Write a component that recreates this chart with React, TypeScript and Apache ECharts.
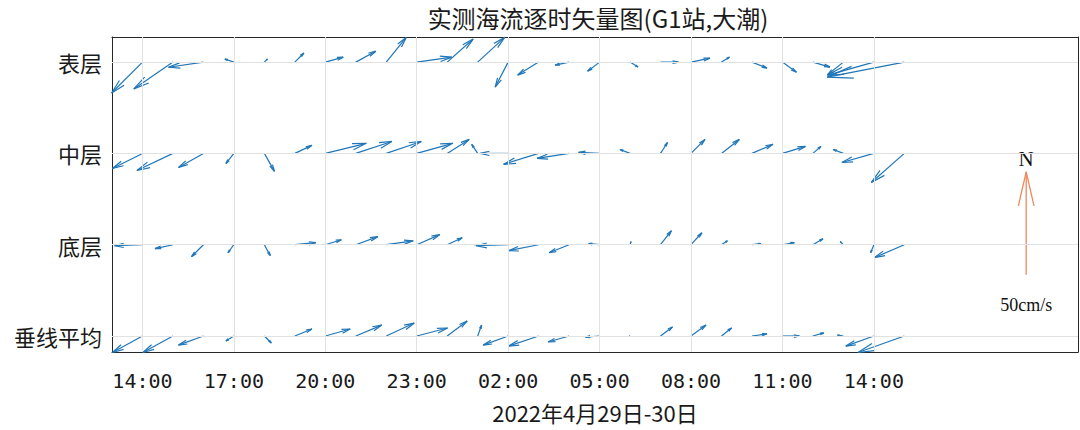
import React, { useEffect, useRef } from 'react';
import * as echarts from 'echarts';

// ---- data ----
const LAYERS = ['表层', '中层', '底层', '垂线平均'];
const ROW_POS = [4, 3, 2, 1];
// hourly observations: 14:00 (29th) .. 15:00 (30th), hours counted from 0:00 on the 29th
const HOURS = [14, 15, 16, 17, 18, 19, 20, 21, 22, 23, 24, 25, 26, 27, 28, 29, 30, 31, 32, 33, 34, 35, 36, 37, 38, 39];
const TICK_HOURS = [14, 17, 20, 23, 26, 29, 32, 35, 38];

// east (u) and north (v) components, cm/s
const SURF_U = [-15, -19, -17, -4.4, 1.5, 4.4, 8.7, 9.7, 9.7, 17, 12.6, 13.1, -6.3, -10.2, -6.8, -5.8, 3.9, 8.7, 9.2, 3.9, 7.3, 6.8, 8.3, -7.8, -22.3, -37.4];
const SURF_V = [-15, -13, -2.5, 1.5, 1.5, 4.4, 2.4, 5.3, 12, 2.4, 11.2, 12, -12.1, -6.3, -1.5, -4.4, -2.4, 0, 1.9, 2.4, -2.9, -4.9, -2.4, -6.3, -6.3, -7.3];
const MID_U = [-14.6, -17.5, -12.1, -3.9, 4.9, 8.3, 19.9, 17.5, 17, 17.5, 10.7, -2.9, -13.6, -17, -15.5, -10.2, -4.9, 3.4, 6.8, 8.7, 10.2, 11.2, 3.9, -4.9, -15.5, -16];
const MID_V = [-7.3, -8.3, -6.8, -4.9, -8.7, 3.9, 4.9, 5.8, 5.8, 4.9, 6.8, 4.4, 0, -5.3, -2.4, 0.5, 1.9, 5.3, 6.8, 6.8, 4.4, 3.4, 3.4, 1.9, -4.4, -14.1];
const BOT_U = [-13.6, -8.7, -5.8, -2.9, 2.9, 10.2, 7.8, 10.7, 13.1, 11.2, 7.3, -1.5, -15.5, -14.6, -9.7, -5.3, 0.5, 5.3, 5.3, 2.9, 4.4, 5.8, 4.9, -1.5, -1.5, -14.6];
const BOT_V = [-0.5, -1.9, -5.8, -3.9, -5.3, 1, 2.4, 3.9, 1.9, 4.9, 3.4, 0, -0.5, -2.9, -3.9, 0.5, 1.5, 6.8, 5.8, 1.9, 0.5, 1, 2.9, 1.5, -3.9, -6.3];
const AVG_U = [-14.6, -14.6, -12.1, -3.9, 3.4, 8.3, 12.1, 12.6, 13.6, 15, 9.7, 1.9, -12.1, -14.6, -10.2, -6.8, -0.5, 5.8, 7.3, 4.9, 7.3, 8.3, 5.3, -2.9, -13.6, -22.5];
const AVG_V = [-8, -8, -4.4, -2.4, -3.4, 3.4, 3.4, 5.3, 6.3, 3.9, 7.3, 5.3, -4.4, -4.9, -2.9, -0.5, 0, 4.4, 5.3, 3.9, 1, 0, 1.5, 0.5, -4.9, -8];

const LAYER_U = [SURF_U, MID_U, BOT_U, AVG_U];
const LAYER_V = [SURF_V, MID_V, BOT_V, AVG_V];

// reference (scale) arrow
const REF_SPEED = 50; // cm/s, pointing north
const REF_POS = [43, 1.67];

const TITLE = '实测海流逐时矢量图(G1站,大潮)';
const X_NAME = '2022年4月29日-30日';

// ---- styling ----
const PX_PER_CM = 2.06;
const ARROW_COLOR = '#1f76b8';
const REF_COLOR = '#f0875c';
const AXIS_COLOR = '#262626';
const GRID_COLOR = '#e2e2e2';

function arrowChildren(p: number[], u: number, v: number, color: string, width: number) {
  const dx = u * PX_PER_CM;
  const dy = -v * PX_PER_CM;
  const hx = p[0] + dx;
  const hy = p[1] + dy;
  const a = 0.33;
  const b = 0.23;
  const b1 = [hx - a * (dx + b * dy), hy - a * (dy - b * dx)];
  const b2 = [hx - a * (dx - b * dy), hy - a * (dy + b * dx)];
  const style = { stroke: color, lineWidth: width, fill: null };
  return [
    { type: 'polyline', shape: { points: [p, [hx, hy]] }, style },
    { type: 'polyline', shape: { points: [b1, [hx, hy], b2] }, style },
  ];
}

export default function App() {
  const ref = useRef<HTMLDivElement>(null);
  useEffect(() => {
    if (!ref.current) return;
    const chart = echarts.init(ref.current, undefined, { renderer: 'svg' });

    const arrowData: number[][] = [];
    LAYERS.forEach((_, li) => {
      HOURS.forEach((h, i) => {
        arrowData.push([h, ROW_POS[li], LAYER_U[li][i], LAYER_V[li][i]]);
      });
    });

    const fmtHour = (v: number) => String(((v % 24) + 24) % 24).padStart(2, '0') + ':00';

    const xCommon = {
      type: 'value',
      min: 13,
      max: 44.7,
      axisLine: { show: true, lineStyle: { color: AXIS_COLOR, width: 1 } },
      splitLine: { show: false },
    };
    const yCommon = {
      type: 'value',
      min: 0.825,
      max: 4.275,
      axisLine: { show: true, lineStyle: { color: AXIS_COLOR, width: 1 } },
      splitLine: { show: false },
    };

    chart.setOption({
      animation: false,
      grid: { left: 112, right: 2, top: 37, bottom: 78, containLabel: false, outerBoundsMode: 'none' },
      graphic: [
        {
          type: 'text',
          x: 598,
          y: 17,
          style: {
            text: TITLE,
            align: 'center',
            verticalAlign: 'middle',
            fontFamily: 'Noto Sans CJK SC',
            fontSize: 24,
            fill: '#1a1a1a',
          },
        },
      ],
      xAxis: [
        {
          ...xCommon,
          position: 'bottom',
          name: X_NAME,
          nameLocation: 'middle',
          nameGap: 49,
          nameTextStyle: { fontFamily: 'Noto Sans CJK SC', fontSize: 22, color: '#1a1a1a' },
          axisTick: { show: true, inside: true, length: 7, customValues: TICK_HOURS, lineStyle: { color: AXIS_COLOR } },
          axisLabel: {
            show: true,
            customValues: TICK_HOURS,
            formatter: fmtHour,
            margin: 19,
            fontFamily: 'DejaVu Sans Mono',
            fontSize: 20,
            lineHeight: 20,
            color: '#1a1a1a',
          },
        },
        {
          ...xCommon,
          position: 'top',
          axisTick: { show: true, inside: true, length: 7, customValues: TICK_HOURS, lineStyle: { color: AXIS_COLOR } },
          axisLabel: { show: false },
        },
      ],
      yAxis: [
        {
          ...yCommon,
          position: 'left',
          axisTick: { show: true, inside: true, length: 7, customValues: ROW_POS, lineStyle: { color: AXIS_COLOR } },
          axisLabel: {
            show: true,
            customValues: ROW_POS,
            formatter: (v: number) => LAYERS[ROW_POS.indexOf(Math.round(v))] ?? '',
            margin: 10,
            fontFamily: 'Noto Sans CJK SC',
            fontSize: 22,
            color: '#1a1a1a',
          },
        },
        {
          ...yCommon,
          position: 'right',
          axisTick: { show: true, inside: true, length: 7, customValues: ROW_POS, lineStyle: { color: AXIS_COLOR } },
          axisLabel: { show: false },
        },
      ],
      series: [
        {
          type: 'line',
          data: [],
          z: 1,
          silent: true,
          markLine: {
            silent: true,
            symbol: ['none', 'none'],
            label: { show: false },
            lineStyle: { color: GRID_COLOR, width: 1, type: 'solid' },
            data: [
              ...TICK_HOURS.map((h) => ({ xAxis: h })),
              ...ROW_POS.map((r) => ({ yAxis: r })),
            ],
          },
        },
        {
          type: 'custom',
          z: 3,
          silent: true,
          data: arrowData,
          renderItem: (params: any, api: any) => {
            const p = api.coord([api.value(0), api.value(1)]);
            return {
              type: 'group',
              children: arrowChildren(p, api.value(2), api.value(3), ARROW_COLOR, 1.2),
            };
          },
        },
        {
          type: 'custom',
          z: 3,
          silent: true,
          data: [[REF_POS[0], REF_POS[1], 0, REF_SPEED]],
          renderItem: (params: any, api: any) => {
            const p = api.coord([api.value(0), api.value(1)]);
            const speed = api.value(3);
            const tipY = p[1] - speed * PX_PER_CM;
            return {
              type: 'group',
              children: [
                ...arrowChildren(p, 0, speed, REF_COLOR, 1.3),
                {
                  type: 'text',
                  style: {
                    text: 'N',
                    x: p[0],
                    y: tipY - 2,
                    align: 'center',
                    verticalAlign: 'bottom',
                    fontFamily: 'Liberation Serif',
                    fontSize: 21,
                    fill: '#111',
                  },
                },
                {
                  type: 'text',
                  style: {
                    text: speed + 'cm/s',
                    x: p[0],
                    y: p[1] + 30,
                    align: 'center',
                    verticalAlign: 'middle',
                    fontFamily: 'Liberation Serif',
                    fontSize: 18,
                    fill: '#111',
                  },
                },
              ],
            };
          },
        },
      ],
    });
    return () => chart.dispose();
  }, []);
  return <div ref={ref} style={{ position: 'absolute', left: 0, top: 0, width: 1080, height: 430 }} />;
}
